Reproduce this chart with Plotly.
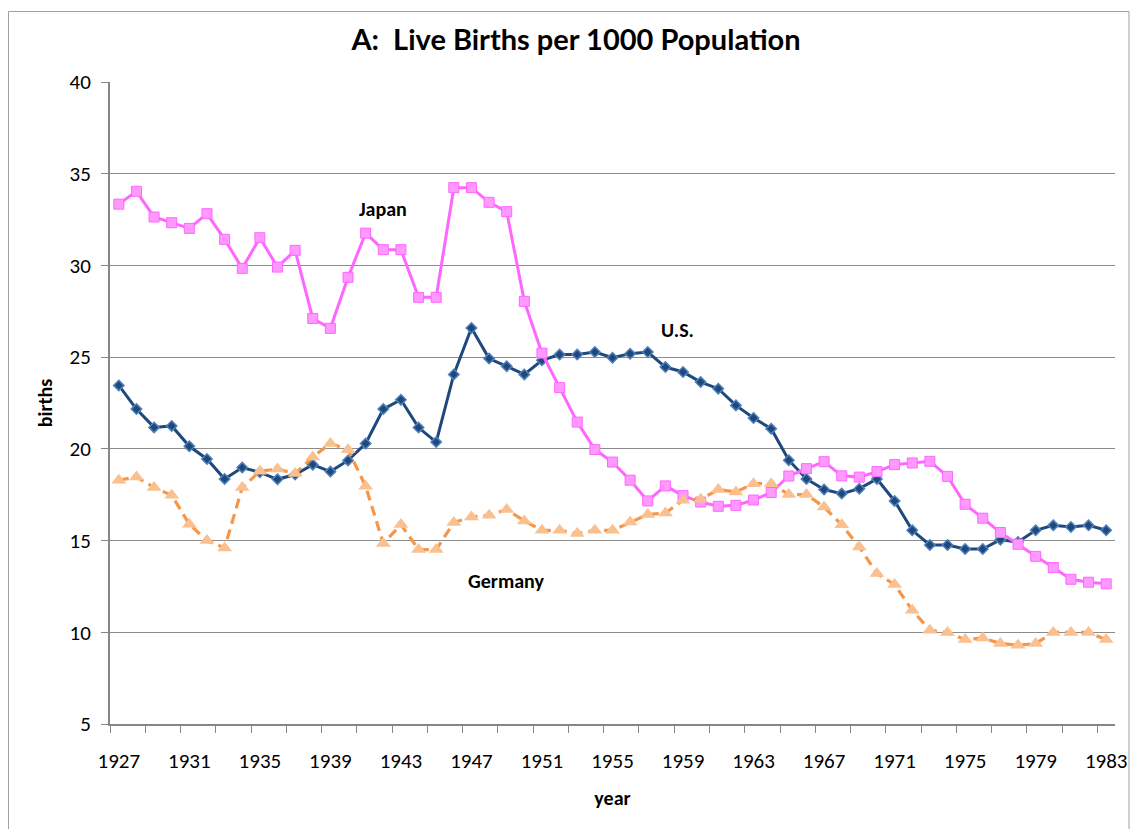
import plotly.graph_objects as go

years = list(range(1927, 1984))

japan = [33.34, 34.04, 32.64, 32.33, 32.02, 32.82, 31.42, 29.84, 31.51, 29.91,
         30.82, 27.11, 26.57, 29.35, 31.76, 30.86, 30.86, 28.26, 28.26, 34.24,
         34.24, 33.44, 32.93, 28.04, 25.22, 23.34, 21.46, 19.96, 19.28, 18.29,
         17.16, 17.98, 17.45, 17.10, 16.87, 16.92, 17.21, 17.62, 18.52, 18.92,
         19.30, 18.53, 18.46, 18.76, 19.14, 19.23, 19.32, 18.50, 16.98, 16.22,
         15.44, 14.80, 14.14, 13.53, 12.89, 12.73, 12.64]

us = [23.46, 22.17, 21.17, 21.25, 20.14, 19.45, 18.36, 18.98, 18.72, 18.34,
      18.60, 19.14, 18.76, 19.37, 20.29, 22.17, 22.68, 21.16, 20.37, 24.06,
      26.59, 24.92, 24.50, 24.06, 24.83, 25.14, 25.14, 25.28, 24.97, 25.19,
      25.28, 24.46, 24.19, 23.64, 23.28, 22.37, 21.68, 21.10, 19.38, 18.36,
      17.78, 17.56, 17.83, 18.36, 17.16, 15.56, 14.76, 14.76, 14.54, 14.54,
      15.05, 14.92, 15.56, 15.83, 15.74, 15.83, 15.56]

germany = [18.29, 18.47, 17.89, 17.47, 15.89, 15.00, 14.60, 17.89, 18.78, 18.90,
           18.65, 19.56, 20.29, 19.95, 17.96, 14.84, 15.87, 14.51, 14.51, 15.98,
           16.29, 16.38, 16.69, 16.07, 15.56, 15.56, 15.38, 15.56, 15.56, 16.01,
           16.42, 16.50, 17.20, 17.25, 17.78, 17.65, 18.10, 18.10, 17.51, 17.51,
           16.83, 15.86, 14.65, 13.20, 12.60, 11.20, 10.11, 9.99, 9.60, 9.69,
           9.39, 9.29, 9.39, 9.99, 9.99, 9.99, 9.60]

x_ticks = list(range(1927, 1984, 4))
y_ticks = list(range(5, 41, 5))

FONT = "Carlito, 'Open Sans', sans-serif"
TITLE_FONT = "Lato, Carlito, sans-serif"

fig = go.Figure()

fig.add_trace(go.Scatter(
    x=years, y=us, mode="lines+markers", name="U.S.",
    line=dict(color="#1F497D", width=3),
    marker=dict(symbol="diamond", size=8, color="#1F497D",
                line=dict(color="#4F81BD", width=1.5)),
))
fig.add_trace(go.Scatter(
    x=years, y=japan, mode="lines+markers", name="Japan",
    line=dict(color="#FF66FF", width=3),
    marker=dict(symbol="square", size=10, color="#FF99FF",
                line=dict(color="#FF66FF", width=1)),
))
fig.add_trace(go.Scatter(
    x=years, y=germany, mode="lines+markers", name="Germany",
    line=dict(color="#F79646", width=3.2, dash="10px,6px"),
    marker=dict(symbol="triangle-up", size=13, color="#FAC090",
                line=dict(width=0)),
))

ann_font = dict(family=FONT, size=20, color="black")
fig.add_annotation(x=1942.0, y=33.05, text="<b>Japan</b>", showarrow=False, font=ann_font)
fig.add_annotation(x=1958.66, y=26.46, text="<b>U.S.</b>", showarrow=False, font=ann_font)
fig.add_annotation(x=1948.97, y=12.78, text="<b>Germany</b>", showarrow=False, font=ann_font)

fig.update_layout(
    width=1136, height=821,
    margin=dict(l=102, r=29, t=73.5, b=105.2),
    paper_bgcolor="white", plot_bgcolor="white",
    showlegend=False,
    font=dict(family=FONT, size=21, color="black"),
    title=dict(text="<b>A:  Live Births per 1000 Population</b>",
               x=0.5, xanchor="center", y=0.961, yanchor="middle",
               font=dict(family=TITLE_FONT, size=29, color="black")),
    xaxis=dict(
        range=[1926.5, 1983.5], tickvals=x_ticks, ticktext=[str(v) for v in x_ticks],
        ticks="", showgrid=False, zeroline=False,
        showline=True, linecolor="#868686", linewidth=2,
        ticklabelstandoff=17,
        tickfont=dict(family=FONT, size=21),
        minor=dict(tick0=1926.5, dtick=2, ticks="outside", ticklen=7,
                   tickcolor="#868686", tickwidth=1, showgrid=False),
        title=dict(text="<b>year</b>", font=dict(family=FONT, size=20), standoff=18),
    ),
    yaxis=dict(
        range=[5, 40], tickvals=y_ticks, ticks="outside", ticklen=7,
        tickcolor="#868686", showgrid=True, gridcolor="#8C8C8C", gridwidth=1,
        zeroline=False, showline=True, linecolor="#868686", linewidth=2,
        tickfont=dict(family=FONT, size=21), ticklabelstandoff=6,
        title=dict(text="<b>births</b>", font=dict(family=FONT, size=20), standoff=12),
    ),
)

fig.add_shape(type="rect", xref="paper", yref="paper",
              x0=-0.1010, x1=1.0139, y0=-0.178, y1=1.1098,
              line=dict(color="#A0A0A0", width=1), fillcolor="rgba(0,0,0,0)", layer="below")

fig.write_html("out.html")
